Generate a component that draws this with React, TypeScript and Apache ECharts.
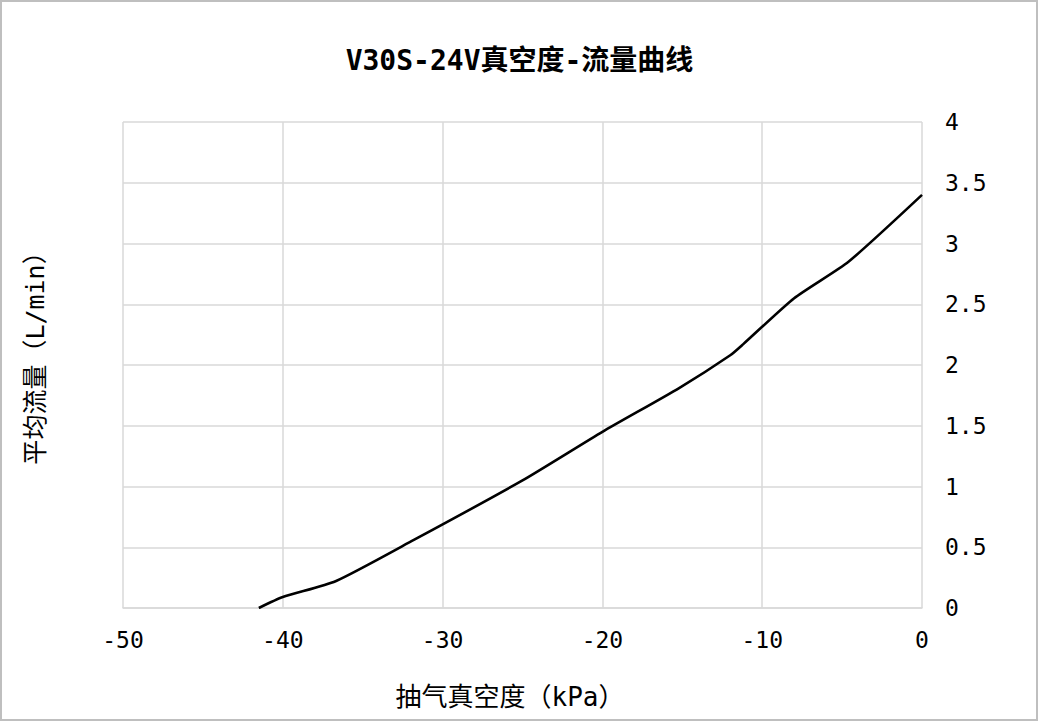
import React, { useEffect, useRef } from 'react';
import * as echarts from 'echarts';

const vacuum = [-41.5, -40, -36.7, -31.8, -25, -20, -15.2, -12, -11.2, -8, -4.6, 0];
const flow = [0, 0.09, 0.22, 0.56, 1.05, 1.45, 1.81, 2.08, 2.17, 2.55, 2.85, 3.4];

const titleText = 'V30S-24V真空度-流量曲线';
const xName = '抽气真空度（kPa）';
const yName = '平均流量（L/min）';

// latin glyphs in a mono face (wide, like the original), CJK falls back
const FONT = '"DejaVu Sans Mono", "Noto Sans CJK SC", monospace';

export default function App() {
  const chartRef = useRef<HTMLDivElement>(null);

  useEffect(() => {
    document.body.style.margin = '0';
    if (!chartRef.current) return;
    const chart = echarts.init(chartRef.current, undefined, { renderer: 'svg' });

    const option: echarts.EChartsOption = {
      animation: false,
      backgroundColor: '#fff',
      title: {
        text: titleText,
        left: 'center',
        top: 41,
        textStyle: { fontFamily: FONT, fontSize: 28, fontWeight: 'bold', color: '#000' },
      },
      grid: { left: 123, right: 117, top: 122, bottom: 114 },
      xAxis: {
        type: 'value',
        min: -50,
        max: 0,
        interval: 10,
        axisLine: { show: true, lineStyle: { color: '#d9d9d9', width: 1.5 } },
        axisTick: { show: false },
        splitLine: { show: true, lineStyle: { color: '#d9d9d9', width: 1.5 } },
        axisLabel: { color: '#000', fontSize: 23, fontFamily: FONT, margin: 20 },
      },
      yAxis: {
        type: 'value',
        position: 'right',
        min: 0,
        max: 4,
        interval: 0.5,
        axisLine: { show: false },
        axisTick: { show: false },
        splitLine: { show: true, lineStyle: { color: '#d9d9d9', width: 1.5 } },
        axisLabel: { color: '#000', fontSize: 23, fontFamily: FONT, margin: 23 },
      },
      graphic: [
        {
          type: 'rect',
          shape: { x: 1, y: 1, width: 1036, height: 719 },
          style: { fill: 'none', stroke: '#bfbfbf', lineWidth: 2 },
          silent: true,
        },
        {
          type: 'text',
          x: 510,
          y: 697,
          style: {
            text: xName,
            fontFamily: FONT,
            fontSize: 26,
            fill: '#000',
            align: 'center',
            verticalAlign: 'middle',
          },
        },
        {
          type: 'text',
          x: 35,
          y: 352,
          rotation: Math.PI / 2,
          style: {
            text: yName,
            fontFamily: FONT,
            fontSize: 25,
            fill: '#000',
            align: 'center',
            verticalAlign: 'middle',
          },
        },
      ],
      series: [
        {
          type: 'line',
          data: vacuum.map((v, i) => [v, flow[i]]),
          showSymbol: false,
          smooth: 0.2,
          lineStyle: { color: '#000', width: 2.6 },
        },
      ],
    };
    chart.setOption(option);

    return () => chart.dispose();
  }, []);

  return <div ref={chartRef} style={{ width: 1039, height: 722 }} />;
}
